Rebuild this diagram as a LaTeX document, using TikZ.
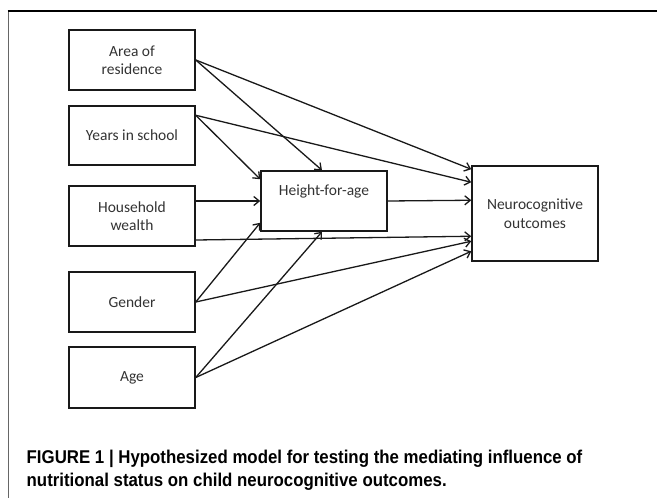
\documentclass[tikz,border=0pt]{standalone}
\usepackage{fontspec}
\setmainfont{Carlito}
\newfontfamily\capfont{Liberation Sans}
\usetikzlibrary{arrows.meta}
\begin{document}
\begin{tikzpicture}[x=1pt,y=-1pt,
  varbox/.style={draw=black!90,line width=1.5pt,minimum width=126pt,inner sep=2pt,
    font=\fontsize{15.5}{18.5}\selectfont,text=black!80,align=center},
  link/.style={draw=black!90,line width=1.3pt,-{Straight Barb[length=5.5pt,width=9pt,line width=1.3pt]}},
  captxt/.style={anchor=base west,inner sep=0pt,font=\capfont\bfseries\fontsize{18.5}{22}\selectfont}]
\useasboundingbox (0,0) rectangle (657,498);
\draw[black!60,line width=0.8pt] (8,498) -- (8,11.5);
\draw[black,line width=1.2pt] (7.6,11) -- (657,11);
\node[varbox,minimum height=60pt] (area) at (132,60) {Area of\\residence};
\node[varbox,minimum height=59pt] (years) at (132,135.5) {Years in school};
\node[varbox,minimum height=60pt] (wealth) at (132,216) {Household\\wealth};
\node[varbox,minimum height=60pt] (gender) at (132,302) {Gender};
\node[varbox,minimum height=61pt] (age) at (132,377.5) {Age};
\node[varbox,minimum height=60pt] (hfa) at (324,201) {};
\node[font=\fontsize{15.5}{18.5}\selectfont,text=black!80] (hfalbl) at (324,191) {Height-for-age};
\node[varbox,minimum height=95pt] (neuro) at (535,213.5) {Neurocognitive\\outcomes};
% arrows
\draw[link] (area.east) -- ([xshift=-2pt]hfa.north);
\draw[link] (area.east) -- ([yshift=-4pt]neuro.north west);
\draw[link] ([yshift=-10pt]years.north east) -- ([yshift=-9pt]hfa.north west);
\draw[link] ([yshift=-10pt]years.north east) -- ([yshift=-17pt]neuro.north west);
\draw[link] ([yshift=15pt]wealth.east) -- (hfa.west);
\draw[link] ([yshift=-24pt]wealth.east) -- ([yshift=-71pt]neuro.north west);
\draw[link] (hfa.east) -- ([yshift=-35pt]neuro.north west);
\draw[link] (gender.east) -- ([yshift=9pt]hfa.south west);
\draw[link] (gender.east) -- ([yshift=-76pt]neuro.north west);
\draw[link] (age.east) -- ([xshift=-2pt]hfa.south);
\draw[link] (age.east) -- ([yshift=-86pt]neuro.north west);
% caption
\node[captxt] (cap1) at (26.5,463.5) {\scalebox{0.91}[1]{FIGURE 1 | Hypothesized model for testing the mediating influence of}};
\node[captxt] (cap2) at (26.5,486) {\scalebox{0.91}[1]{nutritional status on child neurocognitive outcomes.}};
\end{tikzpicture}
\end{document}
